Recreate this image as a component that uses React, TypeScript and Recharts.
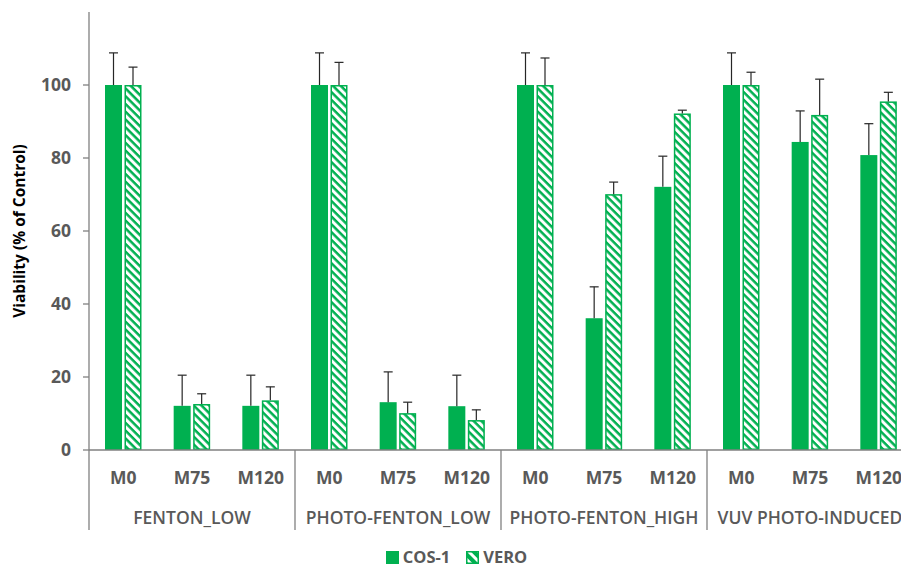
import React from "react";
import { BarChart, Bar, XAxis, YAxis, Legend } from "recharts";

const groups = ["FENTON_LOW", "PHOTO-FENTON_LOW", "PHOTO-FENTON_HIGH", "VUV PHOTO-INDUCED"];
const doses = ["M0", "M75", "M120"];
const cos1 = [100, 12.1, 12.1, 100, 13.1, 12, 100, 36.1, 72.1, 100, 84.4, 80.8];
const cos1Err = [8.8, 8.4, 8.4, 8.8, 8.3, 8.5, 8.8, 8.6, 8.4, 8.8, 8.5, 8.6];
const vero = [100, 12.6, 13.6, 100, 10.1, 8.2, 100, 70.1, 92.2, 100, 91.8, 95.5];
const veroErr = [4.9, 2.8, 3.7, 6.2, 3.0, 2.8, 7.4, 3.3, 0.9, 3.5, 9.8, 2.5];
const yTicks = [0, 20, 40, 60, 80, 100];

const GREEN = "#00B050";
const GRAY = "#595959";
const AXIS = "#808080";
const FONT = "'Open Sans', sans-serif";

const CHART_W = 925;
const CHART_H = 568;
const MARGIN = { top: 12, right: 12, left: 0, bottom: 0 };
const Y_W = 89;
const PLOT_W = CHART_W - MARGIN.left - MARGIN.right - Y_W;

const data = cos1.map((v, i) => ({
  dose: doses[i % doses.length],
  group: groups[Math.floor(i / doses.length)],
  cos1: v,
  cos1Err: cos1Err[i],
  vero: vero[i],
  veroErr: veroErr[i],
}));

// bar + upward-only error whisker
function makeShape(errKey: string, hatched: boolean) {
  return (props: any) => {
    const { x, y, width, height, payload, value } = props;
    const v = Array.isArray(value) ? value[1] - value[0] : value;
    const errPx = v ? (height * payload[errKey]) / v : 0;
    const cx = x + width / 2;
    return (
      <g>
        {hatched ? (
          <rect
            x={x + 0.75}
            y={y + 0.75}
            width={width - 1.5}
            height={Math.max(height - 1.5, 0)}
            fill="url(#hatch)"
            stroke={GREEN}
            strokeWidth={1.5}
          />
        ) : (
          <rect x={x} y={y} width={width} height={height} fill={GREEN} />
        )}
        <line x1={cx} x2={cx} y1={y} y2={y - errPx} stroke="#262626" strokeWidth={1.2} />
        <line x1={cx - 4.5} x2={cx + 4.5} y1={y - errPx} y2={y - errPx} stroke="#262626" strokeWidth={1.2} />
      </g>
    );
  };
}

const DoseTick = (props: any) => {
  const { x, y, payload } = props;
  return (
    <text x={x} y={y + 34} textAnchor="middle" fill={GRAY} fontSize={17.5} fontWeight={700} fontFamily={FONT}>
      {payload.value}
    </text>
  );
};

const GroupTick = (props: any) => {
  const { x, y, payload, index } = props;
  const step = PLOT_W / data.length;
  const pos = index % doses.length;
  return (
    <g>
      {pos === 0 && (
        <line x1={x - step / 2} x2={x - step / 2} y1={y - 40} y2={y + 40} stroke={AXIS} strokeWidth={1.3} />
      )}
      {index === data.length - 1 && (
        <line x1={x + step / 2} x2={x + step / 2} y1={y - 40} y2={y + 40} stroke={AXIS} strokeWidth={1.3} />
      )}
      {pos === 1 && (
        <text x={x} y={y + 34} textAnchor="middle" fill={GRAY} fontSize={17.5} fontWeight={600} fontFamily={FONT}>
          {payload.value}
        </text>
      )}
    </g>
  );
};

const YLabel = (props: any) => {
  const { viewBox } = props;
  const cx = 25;
  const cy = viewBox.y + viewBox.height / 2;
  return (
    <text
      x={cx}
      y={cy}
      transform={`rotate(-90 ${cx} ${cy})`}
      textAnchor="middle"
      fill="#000"
      fontSize={15.5}
      fontWeight={700}
      fontFamily={FONT}
    >
      Viability (% of Control)
    </text>
  );
};

const LegendContent = () => (
  <div
    style={{
      height: 38,
      boxSizing: "border-box",
      display: "flex",
      justifyContent: "center",
      alignItems: "center",
      gap: 16,
      paddingTop: 16,
      fontFamily: FONT,
      fontSize: 16.5,
      fontWeight: 700,
      lineHeight: "22px",
      color: GRAY,
      overflow: "visible",
    }}
  >
    <span style={{ display: "flex", alignItems: "center", gap: 4 }}>
      <svg width={13} height={13}>
        <rect x={0} y={0} width={13} height={13} fill={GREEN} />
      </svg>
      COS-1
    </span>
    <span style={{ display: "flex", alignItems: "center", gap: 4 }}>
      <svg width={13} height={13}>
        <defs>
          <pattern id="hatchLegend" width={7} height={7} patternUnits="userSpaceOnUse" patternTransform="rotate(-45)">
            <rect width={7} height={7} fill={GREEN} />
            <rect width={3} height={7} fill="#fff" />
          </pattern>
        </defs>
        <rect x={0.75} y={0.75} width={11.5} height={11.5} fill="url(#hatchLegend)" stroke={GREEN} strokeWidth={1.5} />
      </svg>
      VERO
    </span>
  </div>
);

export default function App() {
  return (
    <div style={{ position: "absolute", left: 0, top: 0, width: 901, height: 568, overflow: "hidden", background: "#fff" }}>
      <BarChart width={CHART_W} height={CHART_H} data={data} margin={MARGIN} barSize={17} barGap={2.5}>
        <defs>
          <pattern id="hatch" width={5.5} height={5.5} patternUnits="userSpaceOnUse" patternTransform="rotate(-45)">
            <rect width={5.5} height={5.5} fill={GREEN} />
            <rect width={3} height={5.5} fill="#fff" />
          </pattern>
        </defs>
        <XAxis
          dataKey="dose"
          xAxisId={0}
          height={40}
          tickLine={false}
          tickSize={0}
          tickMargin={0}
          interval={0}
          axisLine={{ stroke: AXIS, strokeWidth: 1.3 }}
          tick={<DoseTick />}
        />
        <XAxis
          dataKey="group"
          xAxisId="group"
          height={40}
          tickLine={false}
          tickSize={0}
          tickMargin={0}
          interval={0}
          axisLine={false}
          tick={<GroupTick />}
        />
        <YAxis
          width={Y_W}
          domain={[0, 120]}
          ticks={yTicks}
          tickSize={6}
          tickMargin={12}
          axisLine={{ stroke: AXIS, strokeWidth: 1.3 }}
          tickLine={{ stroke: AXIS, strokeWidth: 1.3 }}
          tick={{ fill: GRAY, fontSize: 17.5, fontWeight: 700, fontFamily: FONT }}
          label={<YLabel />}
        />
        <Legend verticalAlign="bottom" height={38} content={<LegendContent />} />
        <Bar dataKey="cos1" name="COS-1" fill={GREEN} shape={makeShape("cos1Err", false)} isAnimationActive={false} />
        <Bar dataKey="vero" name="VERO" fill={GREEN} shape={makeShape("veroErr", true)} isAnimationActive={false} />
      </BarChart>
    </div>
  );
}
